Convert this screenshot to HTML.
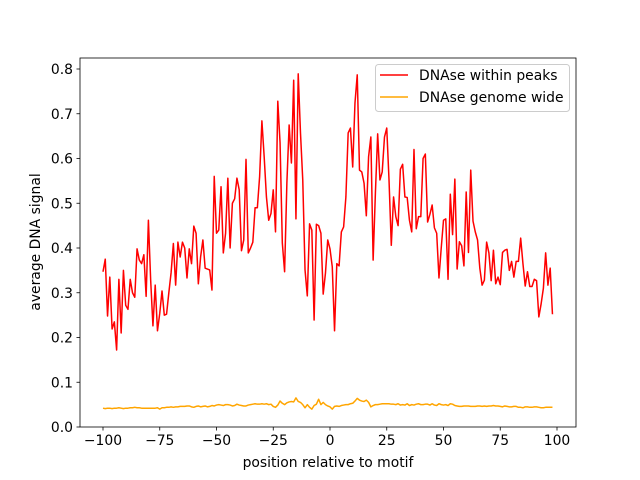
<!DOCTYPE html>
<html><head><meta charset="utf-8"><style>
body{margin:0;background:#fff;}
svg{display:block;font-family:"DejaVu Sans","Liberation Sans",sans-serif;}
</style></head><body>
<svg id="chart" width="640" height="480">
<rect x="0" y="0" width="640" height="480" fill="#fff"/>
<g id="axes"></g>
</svg>
<script>
const xTicks=[-100,-75,-50,-25,0,25,50,75,100];
const yTicks=[0.0,0.1,0.2,0.3,0.4,0.5,0.6,0.7,0.8];
const xStart=-100;
const peaks=[0.347,0.375,0.248,0.335,0.219,0.235,0.172,0.33,0.21,0.35,0.272,0.263,0.33,0.30,0.29,0.398,0.373,0.365,0.385,0.292,0.462,0.328,0.226,0.317,0.215,0.254,0.304,0.25,0.252,0.30,0.345,0.41,0.317,0.413,0.38,0.413,0.40,0.333,0.398,0.365,0.449,0.433,0.32,0.38,0.418,0.355,0.353,0.351,0.306,
0.56,0.433,0.44,0.537,0.389,0.433,0.556,0.40,0.50,0.51,0.556,0.53,0.394,0.418,0.598,0.389,0.40,0.413,0.49,0.49,0.56,0.684,0.604,0.514,0.462,0.477,0.53,0.436,0.728,0.635,0.411,0.347,0.545,0.675,0.59,0.775,0.465,0.789,0.657,0.552,0.351,0.293,
0.454,0.44,0.239,0.453,0.45,0.433,0.297,0.344,0.418,0.398,0.358,0.215,0.365,0.36,0.436,0.447,0.514,0.657,0.668,0.581,0.724,0.787,
0.574,0.57,0.545,0.472,0.604,0.648,0.373,0.523,0.655,0.552,0.57,0.648,0.668,0.552,0.406,0.514,0.47,0.45,0.576,0.587,0.514,0.513,0.462,0.436,0.62,0.443,0.47,0.47,0.60,0.61,
0.458,0.475,0.496,0.445,0.433,0.333,0.40,0.462,0.465,0.33,0.52,0.43,0.554,0.353,0.414,0.405,0.36,0.525,0.39,0.574,0.46,0.436,0.418,0.355,0.317,0.328,0.413,0.389,0.327,0.395,0.32,0.335,0.318,0.39,0.395,0.397,0.35,0.37,0.335,0.37,0.37,0.422,0.365,0.315,0.347,0.314,0.314,0.33,0.327,0.246,0.275,0.31,0.389,0.317,0.355,0.252];
const genome=[0.042,0.041,0.042,0.042,0.041,0.042,0.042,0.043,0.042,0.041,0.042,0.042,0.043,0.043,0.044,0.043,0.043,0.042,0.042,0.042,0.042,0.042,0.042,0.042,0.043,
0.040,0.043,0.043,0.044,0.044,0.045,0.044,0.045,0.045,0.046,0.046,0.046,0.047,0.047,0.045,0.044,0.046,0.047,0.045,0.046,0.047,0.045,0.046,0.048,0.047,
0.049,0.050,0.049,0.048,0.050,0.050,0.049,0.047,0.048,0.051,0.049,0.048,0.047,0.047,0.049,0.050,0.051,0.052,0.051,0.051,0.052,0.051,0.052,0.050,0.051,
0.046,0.044,0.049,0.058,0.053,0.050,0.054,0.056,0.057,0.056,0.065,0.057,0.055,0.050,0.043,0.050,0.044,0.040,0.048,0.051,0.062,0.050,0.055,0.050,0.047,
0.045,0.040,0.046,0.047,0.046,0.048,0.049,0.050,0.050,0.052,0.053,0.058,0.064,0.060,0.058,0.057,0.060,0.055,0.045,0.048,0.050,0.050,0.051,0.052,0.052,
0.052,0.052,0.051,0.051,0.050,0.052,0.049,0.050,0.049,0.052,0.048,0.050,0.049,0.051,0.052,0.050,0.050,0.051,0.051,0.049,0.052,0.049,0.048,0.052,0.050,
0.049,0.050,0.048,0.052,0.051,0.048,0.047,0.046,0.046,0.047,0.047,0.047,0.046,0.046,0.046,0.047,0.047,0.046,0.047,0.046,0.047,0.047,0.048,0.047,0.047,
0.046,0.045,0.047,0.046,0.045,0.045,0.046,0.046,0.044,0.044,0.043,0.045,0.045,0.044,0.044,0.045,0.045,0.044,0.043,0.043,0.044,0.044,0.044,0.044];
const NS='http://www.w3.org/2000/svg';
const L=80,R=576,T=58,B=427;
function sx(v){return 330+v*2.27;}
function sy(v){return B-v*447.5;}
const g=document.getElementById('axes');
function mk(tag,attrs,parent){const e=document.createElementNS(NS,tag);for(const k in attrs)e.setAttribute(k,attrs[k]);(parent||g).appendChild(e);return e;}
function line(data,color,name){
  const pts=data.map((v,i)=>sx(xStart+i).toFixed(2)+','+sy(v).toFixed(2)).join(' ');
  const p=mk('polyline',{points:pts,fill:'none',stroke:color,'stroke-width':1.5,'stroke-linejoin':'round'});
  
  
}
line(peaks,'#ff0000','series-dnase-within-peaks');
line(genome,'#ffa500','series-dnase-genome-wide');
const frame=mk('rect',{x:L,y:T,width:R-L,height:B-T,fill:'none',stroke:'#000','stroke-width':0.8});


xTicks.forEach(t=>{
  const x=sx(t);
  const tk=mk('line',{x1:x,x2:x,y1:B,y2:B+3.5,stroke:'#000','stroke-width':0.8});
  
  
  const tx=mk('text',{x:x,y:B+18,'text-anchor':'middle','font-size':13.9});
  tx.textContent=(t<0?'\u2212'+(-t):t);
  
  
});
yTicks.forEach(t=>{
  const y=sy(t);
  const tk=mk('line',{x1:L-3.5,x2:L,y1:y,y2:y,stroke:'#000','stroke-width':0.8});
  
  
  const tx=mk('text',{x:L-7,y:y+5,'text-anchor':'end','font-size':13.9});
  tx.textContent=t.toFixed(1);
  
  
});
const xl=mk('text',{x:328,y:467,'text-anchor':'middle','font-size':13.9});
xl.textContent='position relative to motif';


const yl=mk('text',{x:0,y:0,'text-anchor':'middle','font-size':13.9,transform:'translate(40,242) rotate(-90)'});
yl.textContent='average DNA signal';


const lg=mk('g',{});


mk('rect',{x:375.5,y:64.5,width:194,height:47,rx:3,fill:'#fff','fill-opacity':0.8,stroke:'#ccc','stroke-width':1},lg);
const e1=mk('line',{x1:380,x2:408,y1:75,y2:75,stroke:'#ff0000','stroke-width':1.5},lg);


const t1=mk('text',{x:419,y:80,'font-size':13.9},lg);
t1.textContent='DNAse within peaks';


const e2=mk('line',{x1:380,x2:408,y1:97,y2:97,stroke:'#ffa500','stroke-width':1.5},lg);


const t2=mk('text',{x:419,y:102,'font-size':13.9},lg);
t2.textContent='DNAse genome wide';


</script>
</body></html>
